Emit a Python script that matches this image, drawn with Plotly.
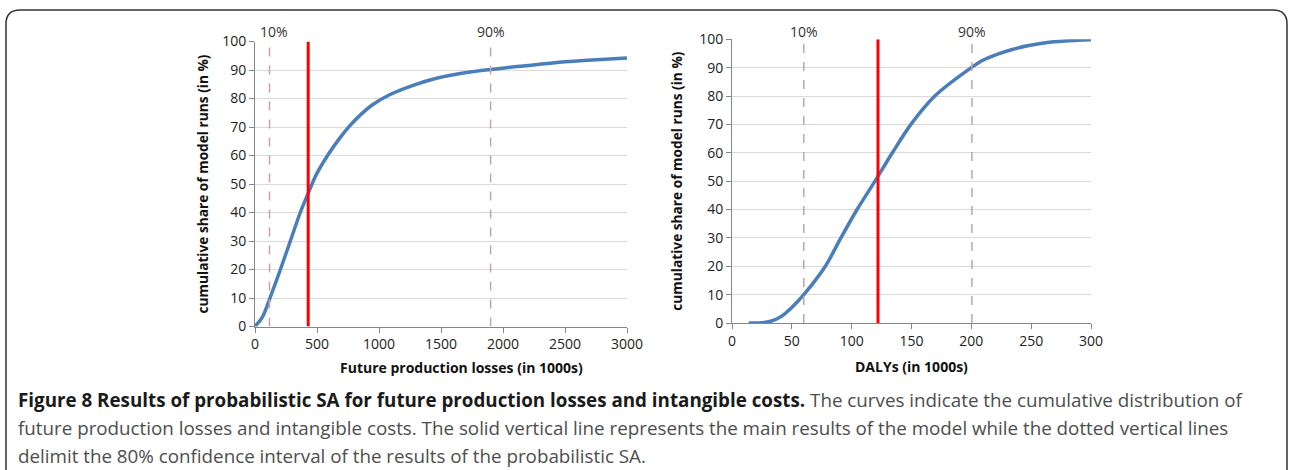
import plotly.graph_objects as go

# ---- data ----
prod_x = [0, 62, 121, 205, 285, 365, 429, 493, 588, 682, 760, 844, 951, 1086, 1275, 1464, 1706, 1903, 2111, 2380, 2650, 3000]
prod_y = [0, 3.5, 10, 20, 30, 40, 46.8, 53.2, 60.2, 66, 70.2, 74, 77.9, 81.3, 84.6, 87.1, 89.1, 90.2, 91.2, 92.4, 93.3, 94.2]
prod_main = 429
prod_p10 = 117
prod_p90 = 1900

daly_x = [14, 25, 33, 40, 50, 60, 78, 91, 104.5, 119.5, 134, 149.5, 169.5, 200, 210, 222, 235, 248, 262, 278, 300]
daly_y = [0, 0.1, 0.7, 2, 5.5, 10, 20, 30, 40, 50, 60, 70, 80, 90, 92.7, 94.8, 96.5, 97.8, 98.8, 99.4, 99.8]
daly_main = 122
daly_p10 = 60
daly_p90 = 200.5

prod_xticks = [0, 500, 1000, 1500, 2000, 2500, 3000]
daly_xticks = [0, 50, 100, 150, 200, 250, 300]
yticks = [0, 10, 20, 30, 40, 50, 60, 70, 80, 90, 100]
pct_labels = ["10%", "90%"]

W, H = 1289, 470
BLUE = "#4a7ebb"
RED = "#ff0000"
DASH = "#c4a3aa"
GRID = "#d9d9d9"
AXIS = "#868686"
TXT = "#222222"

fig = go.Figure()

fig.add_trace(go.Scatter(x=prod_x, y=prod_y, mode="lines", line=dict(color=BLUE, width=3.5, shape="spline", smoothing=0.8),
                         xaxis="x", yaxis="y", showlegend=False, hoverinfo="skip"))
fig.add_trace(go.Scatter(x=daly_x, y=daly_y, mode="lines", line=dict(color=BLUE, width=3.5, shape="spline", smoothing=0.8),
                         xaxis="x2", yaxis="y2", showlegend=False, hoverinfo="skip"))

# vertical lines
for xr, yr, xs, col, dash, wd in [
    ("x", "y", prod_p10, DASH, "dash", 1.5), ("x", "y", prod_p90, DASH, "dash", 1.5), ("x", "y", prod_main, RED, "solid", 3),
    ("x2", "y2", daly_p10, DASH, "dash", 1.5), ("x2", "y2", daly_p90, DASH, "dash", 1.5), ("x2", "y2", daly_main, RED, "solid", 3),
]:
    fig.add_shape(type="line", xref=xr, yref=yr, x0=xs, x1=xs, y0=0, y1=100,
                  line=dict(color=col, width=wd, dash=dash), layer="above")

def px_x(p):
    return p / W

def px_y(p):
    return 1 - p / H

tickfont = dict(family="Open Sans", size=14, color=TXT)
ytitlefont = dict(family="Open Sans", size=13.7, color="#111111", weight="bold")
xtitlefont = dict(family="Open Sans", size=14, color="#111111", weight="bold")

common_x = dict(showgrid=False, showline=True, linecolor=AXIS, linewidth=1, ticks="outside", ticklen=5,
                tickcolor=AXIS, tickfont=tickfont, zeroline=False, automargin=False)
common_y = dict(showgrid=True, gridcolor=GRID, gridwidth=1, showline=True, linecolor=AXIS, linewidth=1,
                ticks="outside", ticklen=5, tickcolor=AXIS, tickfont=tickfont, zeroline=False, automargin=False,
                range=[0, 100], tickvals=yticks, ticksuffix=" ")

fig.update_layout(
    width=W, height=H, margin=dict(l=0, r=0, t=0, b=0, pad=0, autoexpand=False),
    paper_bgcolor="white", plot_bgcolor="white",
    xaxis=dict(common_x, domain=[px_x(255), px_x(627)], range=[0, 3000], tickvals=prod_xticks, anchor="y"),
    yaxis=dict(common_y, domain=[px_y(326.5), px_y(41.5)], anchor="x",
               title=dict(text="cumulative share of model runs (in %)", font=ytitlefont, standoff=10)),
    xaxis2=dict(common_x, domain=[px_x(732), px_x(1091)], range=[0, 300], tickvals=daly_xticks, anchor="y2"),
    yaxis2=dict(common_y, domain=[px_y(323), px_y(39.3)], anchor="x2",
                title=dict(text="cumulative share of model runs (in %)", font=ytitlefont, standoff=13)),
)

# x-axis titles (centred as in the reference)
for xp, yp, t in [(461, 367, "Future production losses (in 1000s)"), (911, 366, "DALYs (in 1000s)")]:
    fig.add_annotation(xref="paper", yref="paper", x=px_x(xp), y=px_y(yp), text=t, showarrow=False,
                       xanchor="center", yanchor="middle", font=xtitlefont)

# percent labels above the plots
for xr, xv, lab, yp in [("x", prod_p10 + 40, pct_labels[0], 32), ("x", prod_p90, pct_labels[1], 32),
                        ("x2", daly_p10, pct_labels[0], 31), ("x2", daly_p90, pct_labels[1], 31)]:
    fig.add_annotation(xref=xr, yref="paper", x=xv, y=px_y(yp), text=lab, showarrow=False,
                       xanchor="center", yanchor="middle", font=dict(family="Open Sans", size=14, color="#333333"))

# caption
cap_font = dict(family="Open Sans", size=18.8, color="#4d4d4d")
lines = [
    "<b><span style='color:#1a1a1a'>Figure 8 Results of probabilistic SA for future production losses and intangible costs.</span></b> The curves indicate the cumulative distribution of",
    "future production losses and intangible costs. The solid vertical line represents the main results of the model while the dotted vertical lines",
    "delimit the 80% confidence interval of the results of the probabilistic SA.",
]
for i, t in enumerate(lines):
    fig.add_annotation(xref="paper", yref="paper", x=px_x(16), y=px_y(400 + 28 * i), text=t, showarrow=False,
                       xanchor="left", yanchor="middle", align="left", font=cap_font)

# rounded border box
def P(x, y):
    return f"{x / W:.5f},{1 - y / H:.5f}"

path = (f"M {P(6, 472)} L {P(6, 24)} Q {P(6, 10)} {P(20, 10)} L {P(1273, 10)} "
        f"Q {P(1287, 10)} {P(1287, 24)} L {P(1287, 472)}")
fig.add_shape(type="path", xref="paper", yref="paper", path=path, line=dict(color="#333333", width=1.5))

fig.write_html("out.html", config={"displayModeBar": False},
               post_script="document.body.style.margin='0';document.body.style.overflow='hidden';")
